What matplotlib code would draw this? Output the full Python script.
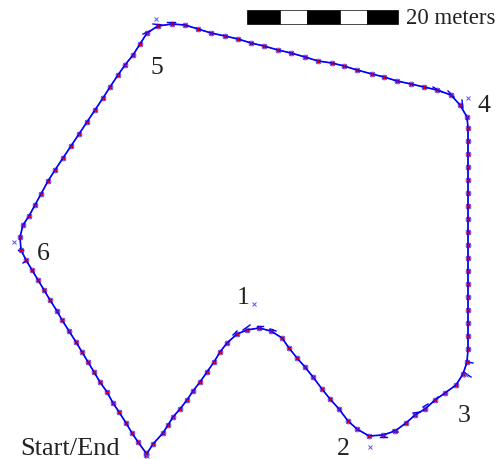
# -*- coding: utf-8 -*-
import matplotlib
matplotlib.use("Agg")
import matplotlib.pyplot as plt
from matplotlib.patches import Rectangle

plt.rcParams["font.family"] = ["Liberation Serif", "DejaVu Serif"]

# path estimate (pixel-like map units)
path_x = [146, 153, 163, 168, 173, 180, 187, 193, 200, 207, 214, 220, 227, 237, 247, 259, 271, 282,
          289, 297, 305, 313, 322, 330, 339, 348, 357, 369, 383, 395, 406, 415, 425, 435, 445, 456,
          463, 467, 468, 468, 468, 468, 468, 468, 468, 468, 468, 468, 468, 468, 468, 468, 468, 468,
          468, 468, 467, 460, 451, 437, 424, 411, 397, 384, 372, 357, 344, 332, 318, 305, 291, 278,
          264, 251, 238, 225, 211, 198, 185, 172, 158, 147, 140, 133, 125, 118, 110, 103, 95, 87, 79,
          71, 63, 55, 48, 41, 35, 29, 23, 20, 21, 26, 32, 38, 44, 50, 57, 62, 69, 76, 82, 88, 94, 100,
          107, 113, 119, 126, 132, 138, 146]
path_y = [455, 444, 433, 425, 417, 409, 400, 391, 382, 372, 362, 352, 343, 334, 330, 328, 331, 338,
          348, 358, 367, 377, 389, 399, 409, 421, 429, 436, 435, 431, 423, 415, 409, 400, 393, 385,
          374, 362, 349, 336, 323, 310, 297, 284, 271, 258, 245, 232, 219, 206, 193, 180, 167, 154,
          141, 128, 117, 105, 95, 90, 87, 84, 81, 77, 74, 70, 66, 63, 61, 57, 53, 50, 46, 43, 39, 36,
          33, 29, 25, 24, 26, 33, 44, 55, 65, 75, 87, 98, 110, 122, 134, 146, 158, 170, 181, 194, 205,
          216, 225, 237, 250, 260, 270, 280, 290, 300, 311, 320, 331, 342, 352, 362, 372, 382, 392,
          403, 412, 423, 433, 442, 453]

# short heading strokes seen on the bends: start and end of each
tick_x0 = [433, 448, 462, 153, 167, 143, 243, 257, 270, 233, 380, 393, 413, 423, 433, 465, 467, 18, 23]
tick_y0 = [87, 91, 100, 24, 22, 34, 330, 326, 329, 335, 437, 430, 413, 407, 402, 373, 362, 250, 263]
tick_x1 = [442, 454, 463, 162, 175, 150, 250, 263, 276, 237, 387, 398, 420, 428, 438, 471, 473, 23, 27]
tick_y1 = [92, 97, 108, 25, 22, 31, 325, 326, 331, 331, 437, 432, 412, 404, 397, 377, 363, 250, 260]

# landmarks (light blue crosses)
land_x = [254, 370, 466, 468, 156, 14, 147]
land_y = [304, 447, 375, 98, 19, 242, 456]

labels = ["1", "2", "3", "4", "5", "6", "Start/End"]
label_x = [243, 343, 464, 484, 157, 43, 70.5]
label_y = [298, 449, 416, 106, 68, 254.5, 449]

bar_edges = [247, 280, 307, 340, 367, 398]
scale_text = "20 meters"

fig = plt.figure(figsize=(5.02, 4.59), dpi=100)
ax = fig.add_axes([0, 0, 1, 1])
ax.set_xlim(0, 502)
ax.set_ylim(459, 0)
ax.axis("off")

# scale bar
for i in range(len(bar_edges) - 1):
    color = "black" if i % 2 == 0 else "white"
    ax.add_patch(Rectangle((bar_edges[i], 10), bar_edges[i + 1] - bar_edges[i], 14,
                           facecolor=color, edgecolor="black", linewidth=0.5))
ax.text(406, 18, scale_text, fontsize=16.5, ha="left", va="center", color="#222222")

# estimated poses
ax.plot(path_x, path_y, color="#8080ff", linestyle="none", marker="o", markersize=3.5, alpha=0.6)
ax.plot(path_x, path_y, color="#0000ff", linewidth=1.2)
ax.plot(path_x, path_y, color="#0000ff", linestyle="none", marker="x", markersize=3.5, markeredgewidth=0.8)
for x0, y0, x1, y1 in zip(tick_x0, tick_y0, tick_x1, tick_y1):
    ax.plot([x0, x1], [y0, y1], color="#0000ff", linewidth=1.0)
# true positions
ax.plot(path_x, path_y, color="#ff0000", linestyle="none", marker="+", markersize=3.5, markeredgewidth=1.0)
ax.plot(path_x, path_y, color="#0000ff", linewidth=0.7, alpha=0.7)

ax.plot(land_x, land_y, color="#5555ee", linestyle="none", marker="x", markersize=3.5, markeredgewidth=0.7)

for s, x, y in zip(labels, label_x, label_y):
    size = 19 if s == "Start/End" else 18.5
    ax.text(x, y, s, fontsize=size, ha="center", va="center", color="#222222")

plt.savefig("out.png", dpi=100)
plt.close(fig)
